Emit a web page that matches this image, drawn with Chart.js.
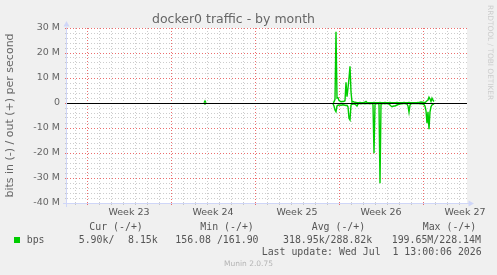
<!DOCTYPE html>
<html><head><meta charset="utf-8">
<script src="https://cdn.jsdelivr.net/npm/chart.js@4"></script>
<style>
html,body{margin:0;padding:0;background:#f0f0f0;}
#wrap{position:relative;width:497px;height:275px;overflow:hidden;background:#f0f0f0;}
#c{position:absolute;left:0;top:0;}
.t{position:absolute;white-space:pre;font-family:"DejaVu Sans Mono",monospace;font-size:9.9px;line-height:12px;color:#555;}
</style></head><body>
<div id="wrap"><canvas id="c" width="497" height="275"></canvas></div>
<script>
// ---- data (values in M bits/s, time in hours from left edge of graph) ----
const weekLabels = ['Week 23','Week 24','Week 25','Week 26','Week 27'];
const weekLabelHours = [124, 292, 460, 628, 796];
const weekStartHours = [40, 208, 376, 544, 712];
const xMin = 0, xMax = 800;
const yMin = -40, yMax = 30, yMinorStep = 2, yMajorStep = 10;

const blipHours = [274, 276, 278];
const blipOut = [0.1, 0.8, 0.1];
const blipIn  = [-0.1, -0.4, -0.1];

const mainStartHour = 532, sampleHours = 2;
const mainOut = [
  0.2, 0.4, 1.5, 28.5, 2.0, 2.1, 1.0, 0.8, 0.5, 0.6,
  0.6, 0.7, 0.9, 8.3, 2.5, 6.0, 9.9, 14.7, 4.5, 0.3,
  0.6, 0.4, 0.3, 0.2, 0.1, 0.1, 0.1, 0.2, 0.1, 0.1,
  0.1, 0.2, 0.3, 0.6, 0.2, 0.1, 0.1, 0.1, 0.1, 0.1,
  0.1, 0.2, 0.1, 0.1, 0.1, 0.1, 0.1, 0.2, 0.1, 0.1,
  0.1, 0.1, 0.2, 0.1, 0.1, 0.1, 0.1, 0.2, 0.1, 0.1,
  0.1, 0.1, 0.1, 0.1, 0.2, 0.1, 0.1, 0.1, 0.1, 0.1,
  0.1, 0.2, 0.1, 0.1, 0.1, 0.1, 0.2, 0.1, 0.1, 0.1,
  0.1, 0.1, 0.1, 0.1, 0.1, 0.2, 0.1, 0.3, 0.4, 0.3,
  0.3, 0.1, 0.2, 0.5, 0.9, 1.2, 2.3, 1.6, 0.6, 1.9,
  1.1, 0.6
];
const mainIn = [
  -0.3, -1.2, -2.8, -3.5, -1.2, -0.9, -0.8, -0.8, -0.9, -0.8,
  -0.7, -0.8, -0.9, -1.0, -0.9, -1.5, -6.1, -6.8, -0.8, -0.5,
  -0.4, -0.3, -0.5, -0.8, -1.2, -0.4, -0.2, -0.2, -0.3, -0.2,
  -0.2, -0.2, -0.3, -0.2, -0.2, -0.2, -0.2, -0.3, -0.2, -0.2,
  -0.6, -20.1, -0.6, -0.3, -0.2, -0.2, -0.6, -32.1, -0.5, -0.3,
  -0.2, -0.2, -0.3, -0.2, -0.2, -0.3, -0.4, -0.8, -1.2, -1.5,
  -1.3, -1.2, -1.2, -1.0, -0.8, -0.6, -0.5, -0.4, -0.3, -0.3,
  -0.2, -0.2, -0.2, -0.3, -0.4, -1.2, -3.7, -0.8, -0.3, -0.2,
  -0.2, -0.2, -0.2, -0.2, -0.2, -0.2, -0.2, -0.3, -0.3, -0.3,
  -0.4, -0.6, -1.2, -3.1, -8.1, -3.5, -10.5, -3.5, -1.5, -0.8,
  -0.5, -0.3
];

const legendHeaders = ['Cur (-/+)', 'Min (-/+)', 'Avg (-/+)', 'Max (-/+)'];
const seriesName = 'bps';
const legendValues = ['5.90k/', '8.15k', '156.08 /161.90', '318.95k/288.82k', '199.65M/228.14M'];
const lastUpdate = 'Last update: Wed Jul  1 13:00:06 2026';
const titleText = 'docker0 traffic - by month';
const yTitle = 'bits in (-) / out (+) per second';
const version = 'Munin 2.0.75';
const watermark = 'RRDTOOL / TOBI OETIKER';

// ---- build ----
const mainHours = mainOut.map((_, i) => mainStartHour + i * sampleHours);
const pts = (h, v) => h.map((x, i) => ({x, y: v[i]}));
const gapPoint = {x: (blipHours[blipHours.length-1] + mainStartHour) / 2, y: null};
const outData = [...pts(blipHours, blipOut), gapPoint, ...pts(mainHours, mainOut)];
const inData  = [...pts(blipHours, blipIn), gapPoint, ...pts(mainHours, mainIn)];

const minorDays = [];
for (let h = weekStartHours[0] % 24; h <= xMax; h += 24) {
  if (weekStartHours.indexOf(h) === -1) minorDays.push(h);
}

const MINOR = 'rgba(170,170,170,0.6)';
const MAJOR = 'rgba(230,60,60,0.75)';
const AXIS = '#CFD6F8';
const GREEN = '#00CC00';

const yGridColor = ctx => (ctx.tick && Math.round(ctx.tick.value) % yMajorStep === 0) ? MAJOR : MINOR;

const muninPlugin = {
  id: 'munin',
  beforeDraw(chart) {
    const a = chart.chartArea, c = chart.ctx;
    c.save(); c.fillStyle = '#ffffff';
    c.fillRect(a.left, a.top, a.right - a.left, a.bottom - a.top);
    c.restore();
  },
  beforeDatasetsDraw(chart) {
    const a = chart.chartArea, c = chart.ctx, xs = chart.scales.x;
    c.save();
    c.strokeStyle = MAJOR; c.lineWidth = 1;
    weekStartHours.forEach(h => {
      const px = Math.round(xs.getPixelForValue(h)) + 0.5;
      c.setLineDash([1, 2]);
      c.beginPath(); c.moveTo(px, a.top); c.lineTo(px, a.bottom); c.stroke();
      c.setLineDash([]);
      c.beginPath(); c.moveTo(px, a.bottom); c.lineTo(px, a.bottom + 2); c.stroke();
    });
    c.restore();
  },
  afterDatasetsDraw(chart) {
    const a = chart.chartArea, c = chart.ctx, ys = chart.scales.y;
    c.save();
    const y0 = Math.round(ys.getPixelForValue(0)) + 0.5;
    c.strokeStyle = '#000'; c.lineWidth = 1;
    c.beginPath(); c.moveTo(a.left, y0); c.lineTo(a.right, y0); c.stroke();
    const yA = Math.round(a.bottom) + 0.5, xA = Math.round(a.left) - 0.5;
    c.strokeStyle = AXIS; c.fillStyle = AXIS;
    c.beginPath(); c.moveTo(a.left - 4, yA); c.lineTo(a.right + 2, yA); c.stroke();
    c.beginPath(); c.moveTo(xA, a.bottom + 4); c.lineTo(xA, a.top - 1); c.stroke();
    c.beginPath(); c.moveTo(a.right + 7, yA); c.lineTo(a.right + 1.5, yA - 3); c.lineTo(a.right + 1.5, yA + 3); c.closePath(); c.fill();
    c.beginPath(); c.moveTo(xA, a.top - 7); c.lineTo(xA - 3, a.top - 1.5); c.lineTo(xA + 3, a.top - 1.5); c.closePath(); c.fill();
    c.restore();
  }
};

new Chart(document.getElementById('c'), {
  type: 'line',
  data: {
    datasets: [
      {label: 'out', data: outData, xAxisID: 'x', yAxisID: 'y', borderColor: GREEN, borderWidth: 1.4, pointRadius: 0, fill: false, spanGaps: false, tension: 0},
      {label: 'in', data: inData, xAxisID: 'x', yAxisID: 'y', borderColor: GREEN, borderWidth: 1.4, pointRadius: 0, fill: false, spanGaps: false, tension: 0}
    ]
  },
  options: {
    responsive: false,
    animation: false,
    devicePixelRatio: 1,
    layout: {padding: {left: 0, right: 30, top: 0, bottom: 0}},
    plugins: {
      legend: {display: false},
      tooltip: {enabled: false},
      title: {display: true, text: titleText, color: '#666', font: {family: 'DejaVu Sans', size: 12.5, weight: 'normal', lineHeight: 1.2}, padding: {top: 12, bottom: 1}}
    },
    scales: {
      xg: {
        type: 'linear', position: 'bottom', weight: 0, min: xMin, max: xMax,
        afterBuildTicks: s => { s.ticks = minorDays.map(v => ({value: v})); },
        afterFit: s => { s.height = 0; },
        ticks: {display: false, autoSkip: false},
        grid: {color: MINOR, tickColor: MINOR, drawTicks: true, tickLength: 2, lineWidth: 1},
        border: {display: false, dash: [1, 2]}
      },
      x: {
        type: 'linear', position: 'bottom', weight: 1, min: xMin, max: xMax,
        afterBuildTicks: s => { s.ticks = weekLabelHours.map(v => ({value: v})); },
        afterFit: s => { s.height = 72; },
        ticks: {
          autoSkip: false, maxRotation: 0, padding: 4, color: '#555',
          font: {family: 'DejaVu Sans', size: 9.5},
          callback: (v, i) => weekLabels[i]
        },
        grid: {display: false, drawTicks: false},
        border: {display: false}
      },
      y: {
        type: 'linear', position: 'left', min: yMin, max: yMax,
        afterFit: s => { s.width = 67; },
        ticks: {
          stepSize: yMinorStep, autoSkip: false, padding: 5, color: '#666',
          font: {family: 'DejaVu Sans', size: 9.5},
          callback: v => (v % yMajorStep === 0) ? (v === 0 ? '0' : v + ' M') : ''
        },
        grid: {color: yGridColor, tickColor: yGridColor, drawTicks: true, tickLength: 2, lineWidth: 1},
        border: {display: false, dash: [1, 2]},
        title: {display: true, text: yTitle, color: '#666', font: {family: 'DejaVu Sans', size: 11}, padding: {top: 3.5, bottom: 0}}
      }
    }
  },
  plugins: [muninPlugin]
});

// ---- legend / texts as HTML ----
const wrap = document.getElementById('wrap');
function addText(txt, left, top, extra) {
  const d = document.createElement('div');
  d.className = 't'; d.textContent = txt;
  d.style.left = left + 'px'; d.style.top = top + 'px';
  if (extra) Object.assign(d.style, extra);
  wrap.appendChild(d); return d;
}
const headerX = [89.3, 200.3, 311.7, 422.7];
legendHeaders.forEach((h, i) => addText(h, headerX[i], 221));
const sq = document.createElement('div');
Object.assign(sq.style, {position: 'absolute', left: '14px', top: '237px', width: '6px', height: '6px', background: GREEN});
wrap.appendChild(sq);
addText(seriesName, 26.7, 234);
const valueX = [78.7, 128, 175.3, 283, 391.7];
legendValues.forEach((v, i) => addText(v, valueX[i], 234));
addText(lastUpdate, 261.7, 246);
addText(version, 0, 259, {width: '497px', textAlign: 'center', fontFamily: 'DejaVu Sans', fontSize: '7.5px', lineHeight: '9px', color: '#b4b4b4'});
addText(watermark, 485.5, 5, {writingMode: 'vertical-rl', fontFamily: 'DejaVu Sans', fontSize: '7.4px', lineHeight: '9px', color: '#cccccc'});
</script>
</body></html>
